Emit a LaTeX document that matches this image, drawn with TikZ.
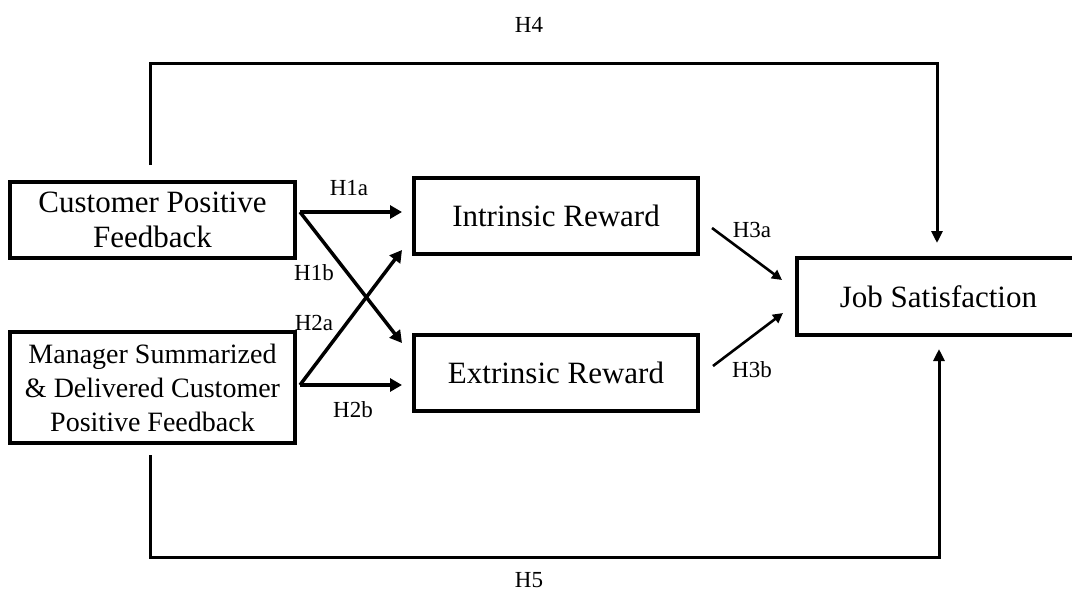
\documentclass[tikz,border=0pt]{standalone}
\usepackage{fontspec}
\setmainfont{Liberation Serif}
\usepackage{tikz}
\usetikzlibrary{arrows.meta}

\tikzset{
	box/.style={draw, line width=3.2pt, align=center, inner sep=0pt, font=\fontsize{31}{35}\selectfont},
	hyp/.style={font=\fontsize{23}{25}\selectfont},
	arr/.style={-{Triangle[length=12pt, width=13pt]}, line width=3.5pt},
	thinarr/.style={-{Triangle[length=10pt, width=10pt]}, line width=2.6pt},
	longarr/.style={-{Triangle[length=12pt, width=11pt]}, line width=3pt},
}

\begin{document}
\begin{tikzpicture}[x=1pt, y=-1pt]
		\useasboundingbox (0,0) rectangle (1072,595);
		
		\node [box, minimum width=285pt, minimum height=76pt] (cpf) at (152.5,220) {Customer Positive\\Feedback};
		\node [box, minimum width=285pt, minimum height=111pt, font=\fontsize{28}{34}\selectfont] (msd) at (152.5,387.5) {Manager Summarized\\\& Delivered Customer\\Positive Feedback};
		\node [box, minimum width=284pt, minimum height=76pt] (ir) at (556,216) {Intrinsic Reward};
		\node [box, minimum width=284pt, minimum height=76pt] (er) at (556,373) {Extrinsic Reward};
		\node [box, minimum width=283pt, minimum height=77pt] (js) at (938.5,296.5) {Job Satisfaction};
		
		\coordinate (cpfout) at (300,212);
		\coordinate (msdout) at (300,385);
		\coordinate (irin1) at (402,212);
		\coordinate (irin2) at (402,250);
		\coordinate (erin1) at (402,343);
		\coordinate (erin2) at (402,385);
		\coordinate (irout) at (712,228);
		\coordinate (erout) at (713,366);
		\coordinate (jsin1) at (782,280);
		\coordinate (jsin2) at (783,313);
		\coordinate (cpfup) at (150,165);
		\coordinate (msddown) at (150,455);
		\coordinate (jsin3) at (937,243);
		\coordinate (jsin4) at (939,349);
		
		\draw [arr] (cpfout) -- (irin1);
		\draw [arr] (cpfout) -- (erin1);
		\draw [arr] (msdout) -- (irin2);
		\draw [arr] (msdout) -- (erin2);
		
		\draw [thinarr] (irout) -- (jsin1);
		\draw [thinarr] (erout) -- (jsin2);
		
		\draw [longarr] (cpfup) -- ++(0,-102) -| (jsin3);
		\draw [longarr] (msddown) -- ++(0,102) -| (jsin4);
		
		\node [hyp] (h1a) at (349,188) {H1a};
		\node [hyp] (h1b) at (314,273) {H1b};
		\node [hyp] (h2a) at (314,323) {H2a};
		\node [hyp] (h2b) at (353,410) {H2b};
		\node [hyp] (h3a) at (752,230) {H3a};
		\node [hyp] (h3b) at (752,370) {H3b};
		\node [hyp] (h4) at (529,25) {H4};
		\node [hyp] (h5) at (529,580) {H5};
	\end{tikzpicture}
\end{document}
